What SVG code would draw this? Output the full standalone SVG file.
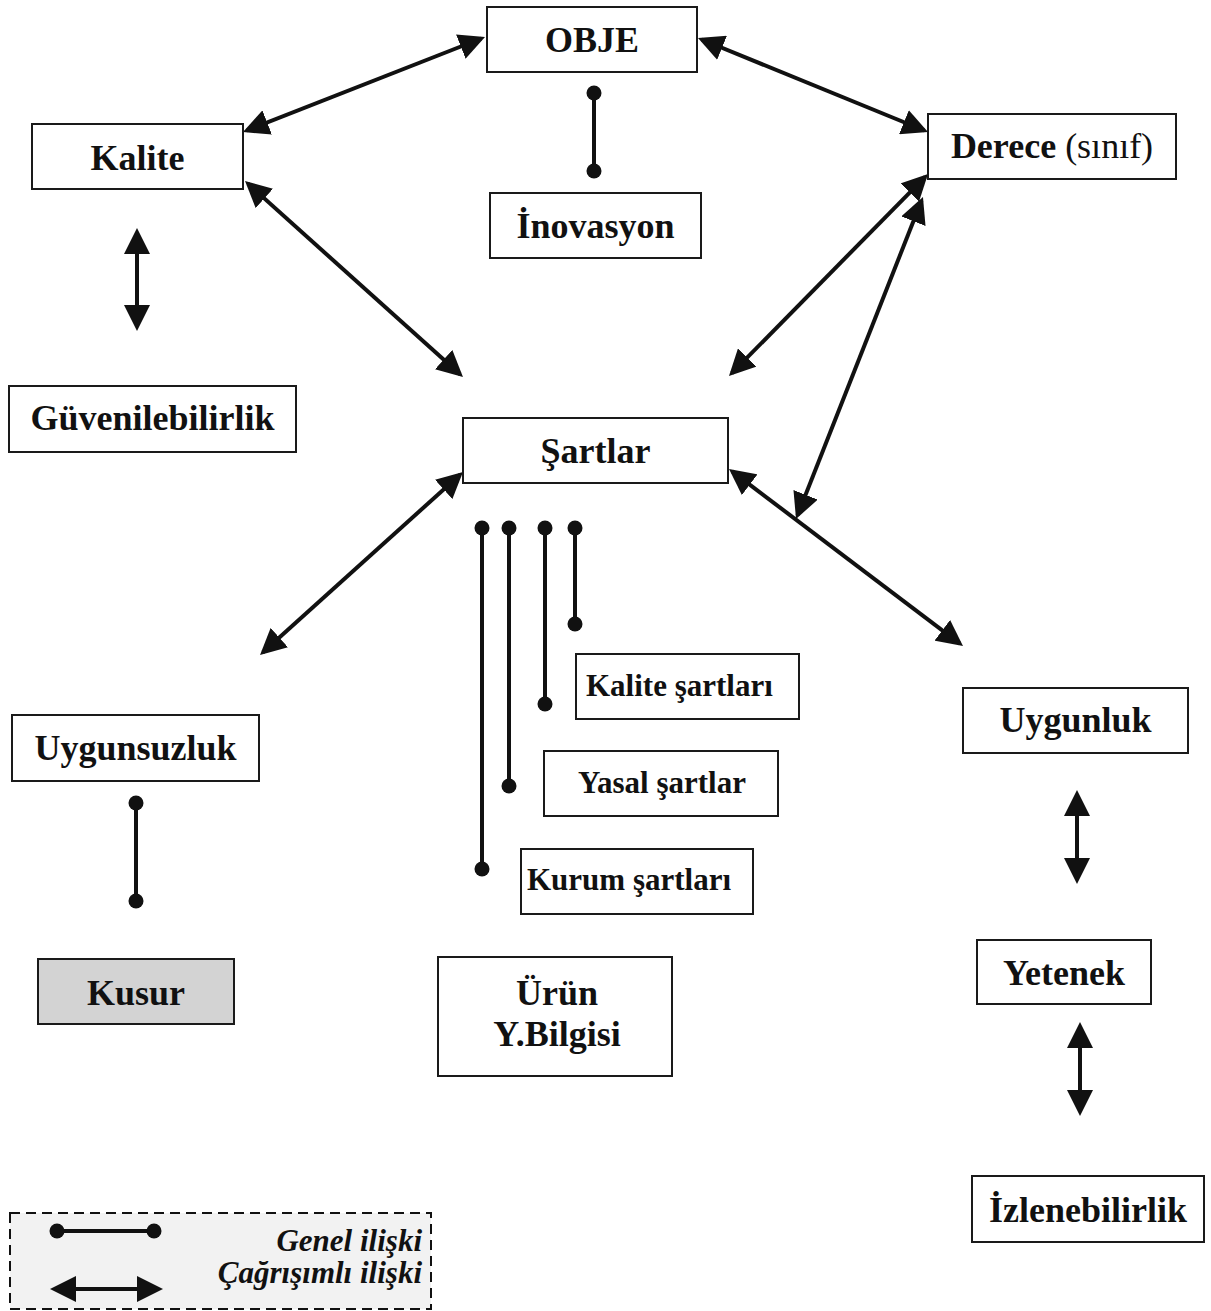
<svg xmlns="http://www.w3.org/2000/svg" width="1211" height="1311" viewBox="0 0 1211 1311">
<style>
.box{fill:#fff;stroke:#1a1a1a;stroke-width:2}
.lbl{font-family:"Liberation Serif","Times New Roman",serif;font-weight:bold;font-size:36px;fill:#111;text-anchor:middle}
.sub{font-family:"Liberation Serif","Times New Roman",serif;font-weight:bold;font-size:31px;fill:#111}
.leg{font-family:"Liberation Serif","Times New Roman",serif;font-weight:bold;font-style:italic;font-size:31px;fill:#111;text-anchor:end}
.arr{stroke:#111;stroke-width:4;fill:none;marker-start:url(#ah);marker-end:url(#ah)}
.gen{stroke:#111;stroke-width:4;fill:none;marker-start:url(#dot);marker-end:url(#dot)}
</style>
<defs>
<marker id="ah" markerUnits="userSpaceOnUse" markerWidth="26" markerHeight="26" refX="22" refY="13" orient="auto-start-reverse" viewBox="0 0 26 26">
<path d="M0,0 L26,13 L0,26 z" fill="#111"/>
</marker>
<marker id="dot" markerUnits="userSpaceOnUse" markerWidth="16" markerHeight="16" refX="8" refY="8" viewBox="0 0 16 16">
<circle cx="8" cy="8" r="7.5" fill="#111"/>
</marker>
</defs>
<rect width="1211" height="1311" fill="#fff"/>

<g id="connectors">
<line class="arr" x1="246.7" y1="130.5" x2="481.3" y2="38.5"/>
<line class="arr" x1="248" y1="183.7" x2="460" y2="374.3"/>
<line class="arr" x1="701.7" y1="39.5" x2="924.3" y2="130.5"/>
<line class="arr" x1="925.2" y1="176.8" x2="731.8" y2="373.2"/>
<line class="arr" x1="921.5" y1="200.7" x2="797.5" y2="515.3"/>
<line class="arr" x1="732.2" y1="471.4" x2="959.8" y2="643.6"/>
<line class="arr" x1="460" y1="474.7" x2="263" y2="652.3"/>
<line class="arr" x1="137" y1="232" x2="137" y2="327"/>
<line class="arr" x1="1077" y1="794" x2="1077" y2="880"/>
<line class="arr" x1="1080" y1="1026" x2="1080" y2="1112"/>
<line class="gen" x1="594" y1="93" x2="594" y2="171"/>
<line class="gen" x1="482" y1="528" x2="482" y2="869"/>
<line class="gen" x1="509" y1="528" x2="509" y2="786"/>
<line class="gen" x1="545" y1="528" x2="545" y2="704"/>
<line class="gen" x1="575" y1="528" x2="575" y2="624"/>
<line class="gen" x1="136" y1="803" x2="136" y2="901"/>
</g>

<g id="node-obje"><rect class="box" x="487" y="7" width="210" height="65"/><text class="lbl" x="592" y="52">OBJE</text></g>
<g id="node-kalite"><rect class="box" x="32" y="124" width="211" height="65"/><text class="lbl" x="137.5" y="170">Kalite</text></g>
<g id="node-inovasyon"><rect class="box" x="490" y="193" width="211" height="65"/><text class="lbl" x="595.5" y="238">İnovasyon</text></g>
<g id="node-derece"><rect class="box" x="928" y="114" width="248" height="65"/><text class="lbl" x="1052" y="158">Derece<tspan font-weight="normal"> (sınıf)</tspan></text></g>
<g id="node-guvenilebilirlik"><rect class="box" x="9" y="386" width="287" height="66"/><text class="lbl" x="152.5" y="430">Güvenilebilirlik</text></g>
<g id="node-sartlar"><rect class="box" x="463" y="418" width="265" height="65"/><text class="lbl" x="595.5" y="463">Şartlar</text></g>
<g id="node-kalite-sartlari"><rect class="box" x="576" y="654" width="223" height="65"/><text class="sub" x="586" y="696">Kalite şartları</text></g>
<g id="node-yasal-sartlar"><rect class="box" x="544" y="751" width="234" height="65"/><text class="sub" x="662" y="793" text-anchor="middle">Yasal şartlar</text></g>
<g id="node-kurum-sartlari"><rect class="box" x="521" y="849" width="232" height="65"/><text class="sub" x="527" y="890">Kurum şartları</text></g>
<g id="node-uygunsuzluk"><rect class="box" x="12" y="715" width="247" height="66"/><text class="lbl" x="135.5" y="760">Uygunsuzluk</text></g>
<g id="node-kusur"><rect class="box" x="38" y="959" width="196" height="65" style="fill:#d3d3d3"/><text class="lbl" x="136" y="1005">Kusur</text></g>
<g id="node-urun"><rect class="box" x="438" y="957" width="234" height="119"/><text class="lbl" x="557" y="1005">Ürün</text><text class="lbl" x="557" y="1046">Y.Bilgisi</text></g>
<g id="node-uygunluk"><rect class="box" x="963" y="688" width="225" height="65"/><text class="lbl" x="1075.5" y="732">Uygunluk</text></g>
<g id="node-yetenek"><rect class="box" x="977" y="940" width="174" height="64"/><text class="lbl" x="1064" y="985">Yetenek</text></g>
<g id="node-izlenebilirlik"><rect class="box" x="972" y="1176" width="232" height="66"/><text class="lbl" x="1088" y="1222">İzlenebilirlik</text></g>

<g id="legend">
<rect x="10" y="1213" width="421" height="96" fill="#f2f2f2" stroke="#111" stroke-width="2" stroke-dasharray="10,6"/>
<line class="gen" x1="57" y1="1231" x2="154" y2="1231"/>
<line class="arr" x1="54" y1="1289" x2="159" y2="1289"/>
<text class="leg" x="422" y="1251">Genel ilişki</text>
<text class="leg" x="422" y="1283">Çağrışımlı ilişki</text>
</g>
</svg>
